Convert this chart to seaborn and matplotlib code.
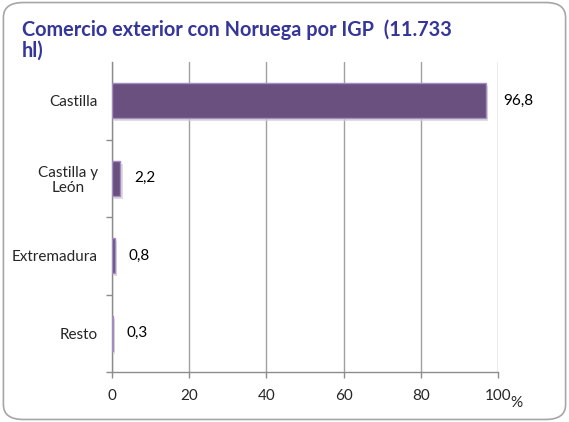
import matplotlib
matplotlib.use("Agg")
import matplotlib.pyplot as plt
import seaborn as sns
import pandas as pd
from matplotlib.patches import FancyBboxPatch

# ==========================================
# DATA
# ==========================================

categories = ["Castilla", "Castilla y\nLeón", "Extremadura", "Resto"]
values = [96.8, 2.2, 0.8, 0.3]
value_labels = ["96,8", "2,2", "0,8", "0,3"]
x_ticks = [0, 20, 40, 60, 80, 100]

title_lines = ["Comercio exterior con Noruega por IGP  (11.733", "hl)"]

# ==========================================
# FIGURE
# ==========================================

sns.set_theme(style="white")
plt.rcParams["font.family"] = ["Lato", "DejaVu Sans"]

df = pd.DataFrame({"categoria": categories, "valor": values})

fig = plt.figure(figsize=(5.69, 4.22), dpi=100)
fig.patch.set_facecolor("white")

# rounded chart border
border = FancyBboxPatch(
    (0.006, 0.006), 0.988, 0.988,
    boxstyle="round,pad=0,rounding_size=0.035",
    transform=fig.transFigure,
    facecolor="none",
    edgecolor="#A6A6A6",
    linewidth=1.2
)
fig.patches.append(border)

ax = fig.add_axes([112 / 569, 1 - 372 / 422, (498 - 112) / 569, (372 - 62) / 422])

# soft shadow behind bars
sns.barplot(
    data=df, x="valor", y="categoria", orient="h",
    color="#D0D0D0", width=0.45, ax=ax, zorder=2,
    linewidth=0
)
for p in ax.patches:
    p.set_x(p.get_x() + 0.6)
    p.set_y(p.get_y() + 0.04)
    p.set_alpha(0.7)

sns.barplot(
    data=df, x="valor", y="categoria", orient="h",
    color="#69507F", width=0.45, ax=ax, zorder=3,
    edgecolor="#A38DC0", linewidth=1.0, saturation=1
)

# value labels
for i, (v, lab) in enumerate(zip(values, value_labels)):
    offset = 4.5 if v > 50 else 3.5
    ax.text(v + offset, i, lab, va="center", ha="left",
            fontsize=11, color="black")

ax.set_xlim(0, 100)
ax.set_ylim(3.5, -0.5)
ax.set_xticks(x_ticks)
ax.set_xticklabels([str(t) for t in x_ticks], fontsize=11)
ax.set_yticks([0, 1, 2, 3])
ax.set_yticklabels(categories, fontsize=11, linespacing=1.1)
for label in ax.get_yticklabels():
    label.set_multialignment("center")
ax.set_xlabel("")
ax.set_ylabel("")

ax.grid(axis="x", color="#A0A0A0", linewidth=1.0, zorder=0)
ax.grid(axis="y", visible=False)
ax.set_axisbelow(True)

for side in ["top", "right"]:
    ax.spines[side].set_visible(False)
ax.spines["left"].set_color("#8C8C8C")
ax.spines["bottom"].set_color("#8C8C8C")
ax.spines["left"].set_linewidth(1.0)
ax.spines["bottom"].set_linewidth(1.0)

ax.tick_params(axis="x", length=4, width=1, color="#8C8C8C", pad=8, direction="out", bottom=True)
ax.tick_params(axis="y", length=0, pad=10)

# minor ticks on y marking category boundaries
ax.set_yticks([0.5, 1.5, 2.5, 3.5], minor=True)
ax.tick_params(axis="y", which="minor", length=4, width=1, color="#8C8C8C", left=True)

fig.text(516 / 569, 1 - 403 / 422, "%", fontsize=11, ha="center", va="center")

for line, baseline in zip(title_lines, [36, 57]):
    fig.text(22 / 569, 1 - baseline / 422, line, fontsize=14.3, fontweight="bold",
             color="#35359A", ha="left", va="baseline")

fig.savefig("out.png", dpi=100, facecolor="white")
